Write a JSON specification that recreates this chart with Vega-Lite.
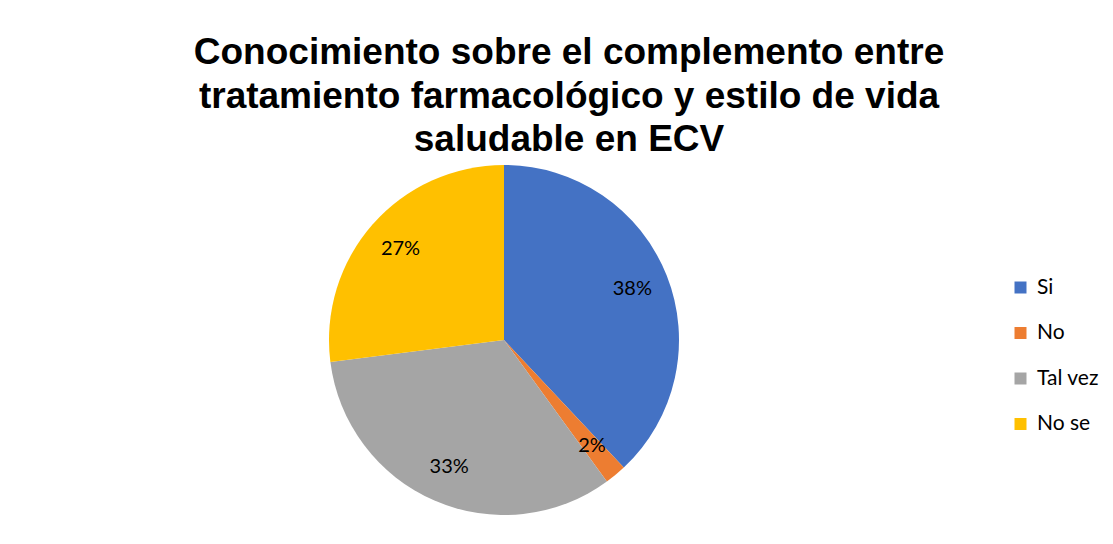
{
  "$schema": "https://vega.github.io/schema/vega-lite/v6.json",
  "autosize": "none",
  "padding": {"left": -120, "top": 9, "right": -15, "bottom": -127},
  "width": 1248,
  "height": 662,
  "background": "white",
  "config": {"view": {"stroke": "#d9d9d9", "strokeWidth": 1}},
  "title": {
    "text": ["Conocimiento sobre el complemento entre", "tratamiento farmacológico y estilo de vida", "saludable en ECV"],
    "font": "Liberation Sans",
    "fontSize": 37,
    "fontWeight": "bold",
    "lineHeight": 43.5,
    "color": "#000000",
    "anchor": "middle",
    "frame": "group",
    "dx": 65,
    "offset": -150
  },
  "data": {
    "values": [
      {"respuesta": "Si", "valor": 0.38, "orden": 1},
      {"respuesta": "No", "valor": 0.02, "orden": 2},
      {"respuesta": "Tal vez", "valor": 0.33, "orden": 3},
      {"respuesta": "No se", "valor": 0.27, "orden": 4}
    ]
  },
  "encoding": {
    "theta": {"field": "valor", "type": "quantitative", "stack": true},
    "order": {"field": "orden", "type": "quantitative"}
  },
  "layer": [
    {
      "mark": {"type": "arc", "outerRadius": 175},
      "encoding": {
        "color": {
          "field": "respuesta",
          "type": "nominal",
          "scale": {"domain": ["Si", "No", "Tal vez", "No se"], "range": ["#4472C4", "#ED7D31", "#A5A5A5", "#FFC000"]},
          "legend": {
            "title": null,
            "orient": "none",
            "legendX": 1130,
            "legendY": 268,
            "symbolType": "square",
            "symbolSize": 144,
            "symbolStrokeWidth": 0,
            "labelFont": "Lato",
            "labelFontSize": 21,
            "labelColor": "#000000",
            "labelOffset": 6,
            "rowPadding": 23.5
          }
        }
      }
    },
    {
      "mark": {"type": "text", "radius": 138, "font": "Lato", "fontSize": 20, "color": "#000000"},
      "encoding": {
        "detail": {"field": "respuesta", "type": "nominal"},
        "text": {"field": "valor", "type": "quantitative", "format": ".0%"}
      }
    }
  ]
}
